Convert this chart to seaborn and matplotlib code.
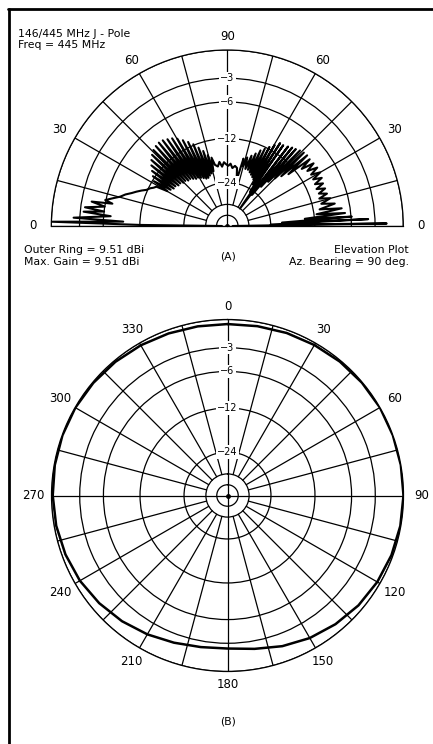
import numpy as np
import matplotlib
matplotlib.use("Agg")
import matplotlib.pyplot as plt
from matplotlib.lines import Line2D
import seaborn as sns

# ---- data ------------------------------------------------------------------
# elevation plot: angle from the right-hand horizon (deg), gain rel. outer ring (dB)
elev_angle = [0, 0.9, 1.9, 2.8, 3.6, 4.3, 5.3, 6.3, 7.5, 8.8, 10.2, 11.8, 13.3, 15.1,
              16.6, 18.0, 19.5, 21.0, 22.5, 24.0, 25.5, 27.0, 28.5, 30.0, 31.5, 33.0,
              34.5, 36.0, 37.5, 39.0, 40.3, 41.5, 42.7, 43.8, 45.0, 46.1, 47.2, 48.3,
              49.3, 50.4, 51.5, 52.6, 54.0, 55.3, 56.4, 57.5, 58.6, 59.7, 60.8, 61.9,
              63.0, 64.1, 65.2, 66.3, 67.4, 68.6, 69.8, 71.0, 72.4, 73.8, 75.2, 76.5,
              78.5, 80.5, 82.7, 85.0, 87.0, 89.0, 91.0, 93.0, 95.0, 97.0, 99.0, 101.4,
              103.0, 104.2, 105.4, 106.6, 107.8, 109.0, 110.2, 111.4, 112.6, 113.8,
              115.0, 116.2, 117.4, 118.6, 119.8, 121.0, 122.2, 123.4, 124.6, 125.8,
              127.0, 128.2, 129.4, 130.6, 131.8, 133.0, 134.2, 135.4, 136.6, 137.8,
              139.0, 140.2, 141.4, 142.6, 143.8, 145.0, 146.2, 147.4, 148.6, 149.8,
              151.0, 152.5, 154.0, 155.9, 157.5, 159.3, 161.0, 162.8, 164.7, 166.2,
              168.0, 169.0, 169.8, 171.0, 172.5, 173.3, 174.3, 175.2, 176.9, 177.6,
              178.6, 179.3, 180]
elev_gain = [-60, -1.7, -24, -3.8, -20, -5.9, -14, -6.8, -11.5, -7.2, -10.8, -8.1, -10.3, -8.6,
             -10.4, -8.9, -10.2, -8.9, -10.3, -8.9, -10.2, -8.7, -10.1, -8.5, -10.0, -8.5,
             -10.2, -8.6, -10.8, -8.7, -13.5, -8.6, -15, -8.7, -16.5, -8.9, -18.4, -9.2,
             -21, -9.4, -25.5, -9.7, -36, -10.0, -25, -10.0, -22, -10.8, -20.5, -11.6,
             -20, -12.3, -19.5, -13.0, -19, -14.0, -18.5, -14.8, -18.5, -15.5, -18, -16,
             -22.7, -18.8, -18.3, -19.0, -17.8, -18.4, -18.0, -17.4, -18.6, -17.2, -18.4, -17.8,
             -15.8, -19.5, -15.0, -20, -13.8, -20.5, -12.8, -21, -11.8, -21,
             -11.0, -20.5, -10.3, -20, -9.6, -19.5, -9.1, -19.5, -8.8, -19,
             -8.5, -18.5, -8.4, -18.5, -8.5, -18, -8.7, -18, -9.1, -17.5,
             -9.6, -17.5, -10.2, -17, -10.9, -17, -11.6, -16.5, -12.3, -16,
             -13.3, -12.9, -12.3, -11.8, -11.0, -10.2, -9.5, -8.6, -7.9, -7.0,
             -5.9, -7.0, -4.2, -6.0, -3.5, -6.0, -3.4, -7.0, -2.3, -9.0,
             -0.05, -12, -60]

# azimuth plot: bearing (deg, clockwise from north), gain rel. outer ring (dB)
az_bearing = [0, 10, 20, 30, 40, 50, 60, 70, 80, 90, 100, 110, 120, 130, 140, 150,
              160, 170, 180, 190, 200, 210, 220, 230, 240, 250, 260, 270, 280, 290,
              300, 310, 320, 330, 340, 350, 360]
az_gain = [-0.45, -0.4, -0.3, -0.22, -0.12, -0.05, 0, 0, 0, 0, -0.05, -0.15, -0.3,
           -0.5, -0.8, -1.15, -1.6, -2.1, -2.4, -2.3, -2.0, -1.6, -1.2, -0.85, -0.55,
           -0.35, -0.2, -0.12, -0.06, -0.03, -0.03, -0.08, -0.15, -0.25, -0.35, -0.42,
           -0.45]

ring_db = [-48, -36, -24, -12, -6, -3, 0]
ring_lab_db = [-24, -12, -6, -3]
ring_labels = ["−24", "−12", "−6", "−3"]
elev_tick_deg = [0, 30, 60, 90, 120, 150, 180]
elev_tick_lab = ["0", "30", "60", "90", "60", "30", "0"]
az_tick_deg = list(range(0, 360, 30))
az_tick_lab = [str(a) for a in az_tick_deg]

# ---- ARRL log radial scale: every 2 dB shrinks the radius to 0.89 ----------
def arrl_fwd(db):
    return 0.89 ** (-np.asarray(db, dtype=float) / 2.0)


def arrl_inv(r):
    return -2.0 * np.log(np.clip(r, 1e-12, None)) / np.log(0.89)


sns.set_theme(style="white")
plt.rcParams['font.family'] = ['DejaVu Sans']

W, H = 433, 744
R = 176
fig = plt.figure(figsize=(W / 100, H / 100), dpi=100)


def make_polar(cx, cy, half):
    left = (cx - R) / W
    bottom = (H - cy - (0.5 * R if half else R)) / H
    ax = fig.add_axes([left, bottom, 2 * R / W, 2 * R / H], projection="polar")
    ax.set_rscale("function", functions=(arrl_fwd, arrl_inv))
    ax.set_rlim(-200, 0)
    ax.set_yticks(ring_db)
    ax.set_yticklabels([])
    ax.set_xticks([])
    ax.yaxis.grid(True, color="black", lw=0.9)
    ax.xaxis.grid(False)
    for sp in ax.spines.values():
        sp.set_color("black")
        sp.set_linewidth(0.9)
    ax.set_facecolor("white")
    return ax


def spokes(ax, angles):
    for a in angles:
        inner = -200 if a % 90 == 0 else -36
        ax.plot([np.deg2rad(a)] * 2, [inner, 0], color="black", lw=0.9, zorder=2)


def ring_text(ax, theta):
    for db, lab in zip(ring_lab_db, ring_labels):
        ax.text(theta, db, lab, ha="center", va="center", fontsize=7,
                color="black", zorder=5,
                bbox=dict(facecolor="white", edgecolor="none", pad=1.2))


def angle_text(ax, thetas_deg, labels, screen_deg):
    # label centres sit a little further out beside the ring than above it
    for th, lab, sc in zip(thetas_deg, labels, screen_deg):
        r_px = 189 + 5 * abs(np.cos(np.deg2rad(sc)))
        db = arrl_inv(r_px / R)
        ax.text(np.deg2rad(th), db, lab, ha="center", va="center",
                fontsize=8.5, color="black", clip_on=False)


# ---- (A) elevation plot ------------------------------------------------------
axA = make_polar(227.3, 226.0, half=True)
axA.set_thetamin(0)
axA.set_thetamax(180)
spokes(axA, range(0, 181, 15))
ring_text(axA, np.pi / 2)
angle_text(axA, elev_tick_deg, elev_tick_lab, elev_tick_deg)
sns.lineplot(x=np.deg2rad(elev_angle), y=elev_gain, ax=axA, sort=False,
             estimator=None, color="black", lw=1.5, zorder=4)
axA.plot([0], [-200], "o", color="black", ms=2.5, zorder=6)
axA.set_xlabel("")
axA.set_ylabel("")

# ---- (B) azimuth plot ---------------------------------------------------------
axB = make_polar(227.5, 495.5, half=False)
axB.set_theta_zero_location("N")
axB.set_theta_direction(-1)
spokes(axB, range(0, 360, 15))
ring_text(axB, 0.0)
angle_text(axB, az_tick_deg, az_tick_lab, [90 - a for a in az_tick_deg])
sns.lineplot(x=np.deg2rad(az_bearing), y=az_gain, ax=axB, sort=False,
             estimator=None, color="black", lw=1.8, zorder=4)
axB.plot([0], [-200], "o", color="black", ms=2.5, zorder=6)
axB.set_xlabel("")
axB.set_ylabel("")

# ---- annotations ---------------------------------------------------------------
def ftext(x, y, s, ha="left"):
    fig.text(x / W, 1 - y / H, s, ha=ha, va="baseline", fontsize=7.8, color="black")


ftext(18, 36.7, "146/445 MHz J - Pole")
ftext(18, 48.3, "Freq = 445 MHz")
ftext(24, 253.3, "Outer Ring = 9.51 dBi")
ftext(24, 264.7, "Max. Gain = 9.51 dBi")
ftext(228, 259.5, "(A)", ha="center")
ftext(409, 253.3, "Elevation Plot", ha="right")
ftext(409, 264.7, "Az. Bearing = 90 deg.", ha="right")
ftext(228, 725, "(B)", ha="center")

# frame edges visible in the reference crop
fig.add_artist(Line2D([9 / W, 9 / W], [1 - 8.5 / H, 0], transform=fig.transFigure,
                      color="black", lw=2))
fig.add_artist(Line2D([8 / W, 1], [1 - 8.7 / H, 1 - 8.7 / H], transform=fig.transFigure,
                      color="black", lw=2))

fig.savefig("out.png", dpi=100, facecolor="white")
